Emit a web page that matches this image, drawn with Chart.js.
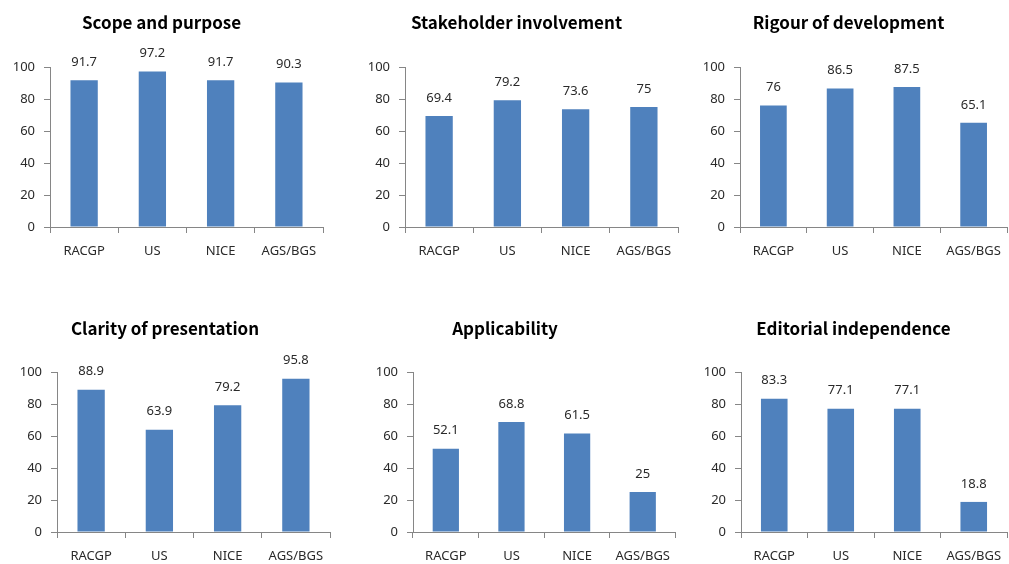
<!DOCTYPE html>
<html>
<head>
<meta charset="utf-8">
<script src="https://cdn.jsdelivr.net/npm/chart.js@4.4.1/dist/chart.umd.min.js"></script>
<style>
  html, body { margin: 0; padding: 0; background: #fff; overflow: hidden; }
  #wrap { position: relative; width: 1009px; height: 564px; overflow: hidden; }
  canvas { position: absolute; }
</style>
</head>
<body>
<div id="wrap"></div>
<script>
// data
const categories = ['RACGP', 'US', 'NICE', 'AGS/BGS'];
const titles = ['Scope and purpose', 'Stakeholder involvement', 'Rigour of development',
    'Clarity of presentation', 'Applicability', 'Editorial independence'];
const scopePurpose = [91.7, 97.2, 91.7, 90.3];
const stakeholder = [69.4, 79.2, 73.6, 75];
const rigour = [76, 86.5, 87.5, 65.1];
const clarity = [88.9, 63.9, 79.2, 95.8];
const applicability = [52.1, 68.8, 61.5, 25];
const editorial = [83.3, 77.1, 77.1, 18.8];
const yMin = 0;
const yMax = 100;
const yStep = 20;

const seriesList = [scopePurpose, stakeholder, rigour, clarity, applicability, editorial];

// canvas placement for each panel: left, top, width, height, y-axis width, right padding
const panels = [
    { left: 0,   top: 0,   w: 344, h: 267, yw: 50, pr: 21, tTop: 12, tBot: 34.6, xh: 40 },
    { left: 355, top: 0,   w: 390, h: 267, yw: 50, pr: 67, tTop: 12, tBot: 34.6, xh: 40 },
    { left: 690, top: 0,   w: 376, h: 267, yw: 50, pr: 59, tTop: 12, tBot: 34.6, xh: 40 },
    { left: 0,   top: 290, w: 384, h: 274, yw: 57, pr: 54, tTop: 28, tBot: 33.6, xh: 32 },
    { left: 330, top: 290, w: 350, h: 274, yw: 83, pr: 0,  tTop: 28, tBot: 33.6, xh: 32 },
    { left: 700, top: 290, w: 360, h: 274, yw: 41, pr: 53, tTop: 28, tBot: 33.6, xh: 32 }
];

const axisColor = '#868686';
const textColor = '#2a2a2a';
const baseFont = '"Noto Sans", "DejaVu Sans", sans-serif';

// simple value labels above each bar
const valueLabels = {
    id: 'valueLabels',
    afterDatasetsDraw(chart) {
        const ctx = chart.ctx;
        const meta = chart.getDatasetMeta(0);
        const vals = chart.data.datasets[0].data;
        ctx.save();
        ctx.font = '13px ' + baseFont;
        ctx.fillStyle = textColor;
        ctx.textAlign = 'center';
        ctx.textBaseline = 'middle';
        meta.data.forEach((bar, i) => {
            ctx.fillText(String(vals[i]), bar.x, bar.y - 18);
        });
        ctx.restore();
    }
};

const wrap = document.getElementById('wrap');

panels.forEach((p, idx) => {
    const cv = document.createElement('canvas');
    cv.width = p.w;
    cv.height = p.h;
    cv.style.left = p.left + 'px';
    cv.style.top = p.top + 'px';
    cv.style.width = p.w + 'px';
    cv.style.height = p.h + 'px';
    wrap.appendChild(cv);

    new Chart(cv.getContext('2d'), {
        type: 'bar',
        data: {
            labels: categories,
            datasets: [{
                label: titles[idx],
                data: seriesList[idx],
                backgroundColor: '#4F81BD',
                borderWidth: 0,
                barPercentage: 0.4,
                categoryPercentage: 1.0
            }]
        },
        options: {
            responsive: false,
            animation: false,
            layout: { padding: { left: 0, right: p.pr, top: 0, bottom: 0 } },
            plugins: {
                legend: { display: false },
                tooltip: { enabled: false },
                title: {
                    display: true,
                    text: titles[idx],
                    color: '#000',
                    font: { family: '"Noto Sans CJK KR", "Noto Sans", sans-serif', size: 17, weight: 'bold', lineHeight: 1.2 },
                    padding: { top: p.tTop, bottom: p.tBot }
                }
            },
            scales: {
                x: {
                    border: { display: true, color: axisColor, width: 1 },
                    grid: { display: true, offset: true, drawOnChartArea: false, drawTicks: true, tickLength: 6, color: axisColor },
                    ticks: { color: textColor, font: { family: baseFont, size: 13 }, padding: 10, maxRotation: 0 },
                    afterFit: s => { s.height = p.xh; }
                },
                y: {
                    min: yMin,
                    max: yMax,
                    border: { display: true, color: axisColor, width: 1 },
                    grid: { display: true, drawOnChartArea: false, drawTicks: true, tickLength: 6, color: axisColor },
                    ticks: { stepSize: yStep, color: textColor, font: { family: baseFont, size: 13 }, padding: 9 },
                    afterFit: s => { s.width = p.yw; }
                }
            }
        },
        plugins: [valueLabels]
    });
});
</script>
</body>
</html>
